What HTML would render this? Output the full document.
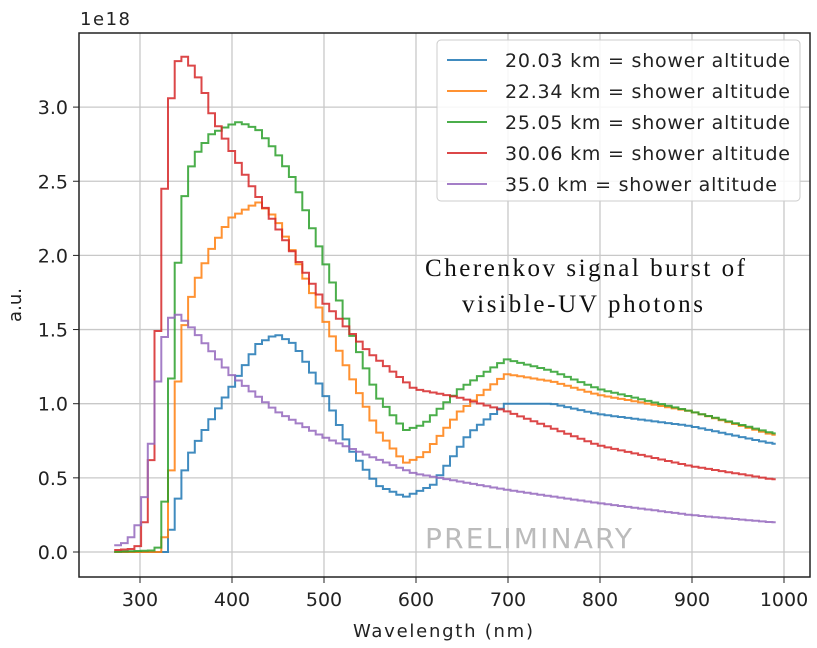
<!DOCTYPE html>
<html><head><style>body{margin:0;background:#fff}svg{display:block}text{font-family:"DejaVu Sans","Liberation Sans",sans-serif;fill:#222}</style></head>
<body>
<svg id="s" width="817" height="648" xmlns="http://www.w3.org/2000/svg">
<g id="grid" stroke="#c8c8c8" stroke-width="1.3"></g>
<g id="curves" fill="none" stroke-width="2" stroke-opacity="0.85"></g>
<rect x="79" y="33" width="731" height="544" fill="none" stroke="#222" stroke-width="1.5"/>
<g id="ticks"></g>
<text x="80" y="25" font-size="18" textLength="50">1e18</text>
<text x="353" y="637" font-size="18" textLength="180">Wavelength (nm)</text>
<text transform="translate(21,305) rotate(-90)" font-size="18" text-anchor="middle">a.u.</text>
<text x="425" y="548" font-size="28" textLength="207" style="fill:#bbb">PRELIMINARY</text>
<text x="425" y="276" font-size="25" textLength="320" style="font-family:'Liberation Serif',serif;fill:#111">Cherenkov signal burst of</text>
<text x="462" y="312" font-size="25" textLength="241" style="font-family:'Liberation Serif',serif;fill:#111">visible-UV photons</text>
<rect x="437" y="40" width="363" height="161" rx="4" fill="#fff" fill-opacity="0.85" stroke="#ccc"/>
<g id="leg" font-size="19"></g>
</svg>
<script>
const X=w=>140+(w-300)*0.92, Y=v=>552-v*148.3;
const g=document.getElementById('grid'),t=document.getElementById('ticks');
let h='',tk='';
for(let w=300;w<=1000;w+=100){h+=`<line x1="${X(w)}" x2="${X(w)}" y1="33" y2="577"/>`;tk+=`<line x1="${X(w)}" x2="${X(w)}" y1="577" y2="583" stroke="#222"/><text x="${X(w)}" y="606" font-size="19" text-anchor="middle">${w}</text>`;}
for(let v=0;v<=3;v+=0.5){h+=`<line x1="79" x2="810" y1="${Y(v)}" y2="${Y(v)}"/>`;tk+=`<line x1="73" x2="79" y1="${Y(v)}" y2="${Y(v)}" stroke="#222"/><text x="68" y="${Y(v)+7}" font-size="19" text-anchor="end">${v.toFixed(1)}</text>`;}
g.innerHTML=h;t.innerHTML=tk;
const D={
'#d62728':[[270,0.01],[292,0.02],[299.25,0.04],[306.55,0.2],[313.85,0.62],[321.15,1.49],[328.45,2.45],[335.75,3.06],[343.05,3.31],[350.35,3.34],[357.65,3.28],[365,3.2],[372,3.1],[380,2.95],[400,2.72],[420,2.5],[450,2.2],[500,1.7],[550,1.35],[600,1.1],[650,1.04],[700,0.95],[800,0.72],[900,0.58],[990,0.49]],
'#2ca02c':[[270,0],[314,0.01],[321.15,0.03],[328.45,0.34],[335.75,1.17],[343.05,1.95],[350.35,2.4],[357.65,2.6],[365,2.7],[380,2.82],[400,2.88],[410,2.9],[430,2.85],[450,2.7],[470,2.5],[500,2.0],[530,1.5],[560,1.05],[590,0.82],[610,0.86],[650,1.1],[700,1.3],[750,1.22],[800,1.1],[900,0.95],[990,0.8]],
'#ff7f0e':[[270,0],[321.15,0],[328.45,0.1],[335.75,0.55],[343.05,1.15],[350.35,1.53],[357.65,1.72],[365,1.85],[380,2.05],[400,2.25],[430,2.36],[450,2.25],[470,2.0],[500,1.6],[530,1.2],[560,0.82],[590,0.6],[610,0.65],[650,0.95],[700,1.2],[750,1.15],[800,1.06],[900,0.95],[990,0.79]],
'#1f77b4':[[270,0],[328.45,0],[335.75,0.15],[343.05,0.36],[350.35,0.55],[357.65,0.67],[365,0.75],[380,0.9],[400,1.1],[430,1.4],[450,1.47],[470,1.4],[500,1.1],[530,0.7],[560,0.45],[590,0.37],[620,0.45],[660,0.8],[700,1.0],[750,1.0],[800,0.93],[900,0.85],[990,0.73]],
'#9467bd':[[273.65,0.04],[281,0.05],[288.3,0.07],[291.95,0.1],[299.25,0.18],[306.55,0.37],[313.85,0.73],[321.15,1.15],[328.45,1.45],[335.75,1.58],[343.05,1.6],[350.35,1.56],[360,1.5],[380,1.35],[400,1.2],[450,0.95],[500,0.78],[550,0.65],[600,0.53],[700,0.42],[800,0.33],[900,0.25],[990,0.2]]};
function f(p,w){if(w<=p[0][0])return p[0][1];for(let i=0;i<p.length-1;i++){if(w<=p[i+1][0]){const a=p[i],b=p[i+1];return a[1]+(b[1]-a[1])*(w-a[0])/(b[0]-a[0]);}}return p[p.length-1][1];}
let c='';const bw=7.3;
for(const col of ['#1f77b4','#ff7f0e','#2ca02c','#d62728','#9467bd']){
 let d='';for(let w=272;w<990;w+=bw){const v=f(D[col],w+bw/2+1.7);d+=(d?'L':'M')+X(w).toFixed(1)+','+Y(v).toFixed(1)+'L'+X(Math.min(w+bw,991)).toFixed(1)+','+Y(v).toFixed(1);}
 c+=`<path d="${d}" stroke="${col}"/>`;}
document.getElementById('curves').innerHTML=c;
const L=[['#1f77b4','20.03'],['#ff7f0e','22.34'],['#2ca02c','25.05'],['#d62728','30.06'],['#9467bd','35.0']];
let l='';L.forEach((e,i)=>{const y=60+i*31;const tl=i==4?272:285;l+=`<line x1="447" x2="487" y1="${y}" y2="${y}" stroke="${e[0]}" stroke-width="2" stroke-opacity="0.85"/><text x="505" y="${y+7}" textLength="${tl}">${e[1]} km = shower altitude</text>`;});
document.getElementById('leg').innerHTML=l;
</script>
</body></html>
